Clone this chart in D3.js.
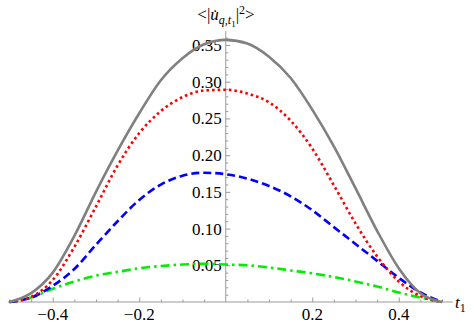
<!DOCTYPE html>
<html>
<head>
<meta charset="utf-8">
<script src="https://cdn.jsdelivr.net/npm/d3@7.9.0/dist/d3.min.js"></script>
<style>
  body { margin: 0; background: #fff; }
</style>
</head>
<body>
<svg id="chart" width="474" height="324" font-family="Liberation Serif"></svg>
<script>
// ─────────── DATA ───────────
const tValues = [-0.5, -0.45, -0.4, -0.35, -0.3, -0.25, -0.2, -0.15, -0.1, -0.05, 0,
                 0.05, 0.1, 0.15, 0.2, 0.25, 0.3, 0.35, 0.4, 0.45, 0.5];

const graySolid = [0, 0.012, 0.040, 0.090, 0.150, 0.206, 0.257, 0.302, 0.332, 0.351, 0.357,
                   0.352, 0.334, 0.305, 0.262, 0.212, 0.155, 0.097, 0.046, 0.012, 0];
const redDotted = [0, 0.007, 0.030, 0.075, 0.130, 0.186, 0.230, 0.260, 0.279, 0.288, 0.289,
                   0.284, 0.272, 0.247, 0.209, 0.159, 0.107, 0.062, 0.028, 0.008, 0];
const blueDashed = [0, 0.006, 0.022, 0.045, 0.078, 0.110, 0.139, 0.160, 0.172, 0.176, 0.174,
                    0.168, 0.158, 0.144, 0.125, 0.102, 0.079, 0.056, 0.033, 0.013, 0];
const greenDashDot = [0, 0.006, 0.018, 0.028, 0.036, 0.041, 0.046, 0.049, 0.051, 0.052, 0.051,
                      0.050, 0.047, 0.043, 0.039, 0.034, 0.028, 0.021, 0.013, 0.006, 0];

const xTicks = [-0.4, -0.2, 0.2, 0.4];
const yTicks = [0.05, 0.10, 0.15, 0.20, 0.25, 0.30, 0.35];

// ─────────── SCALES ───────────
const svg = d3.select("#chart");
const x = d3.scaleLinear().domain([-0.5, 0.5]).range([9.5, 442]);
const y = d3.scaleLinear().domain([0, 0.35]).range([302, 45]);

const axisColor = "#9a9a9a";
const serif = "Liberation Serif";

// minor ticks (every 0.05 on x, 0.01 on y), skipping the majors
const xMinor = d3.range(-10, 11).map(i => i * 0.05)
  .filter(v => Math.abs(v) > 1e-9 && !xTicks.some(t => Math.abs(t - v) < 1e-9));
const yMinor = d3.range(1, 37).map(i => i * 0.01)
  .filter(v => !yTicks.some(t => Math.abs(t - v) < 1e-9));

// ─────────── X AXIS (ticks only, labels added below) ───────────
const gx = svg.append("g").attr("transform", `translate(0,${y(0)})`);
gx.call(d3.axisBottom(x).tickValues(xTicks).tickFormat("").tickSizeInner(-4.5).tickSizeOuter(0));
gx.append("g").call(d3.axisBottom(x).tickValues(xMinor).tickFormat("").tickSizeInner(-2.5).tickSizeOuter(0));
gx.selectAll(".domain").remove();
gx.selectAll("line").attr("stroke", axisColor);
gx.append("line")
  .attr("x1", x(-0.504)).attr("x2", x(0.525))
  .attr("stroke", axisColor).attr("stroke-width", 1);

// ─────────── Y AXIS ───────────
const gy = svg.append("g").attr("transform", `translate(${x(0)},0)`);
gy.call(d3.axisLeft(y).tickValues(yTicks).tickFormat("").tickSizeInner(-4.5).tickSizeOuter(0));
gy.append("g").call(d3.axisLeft(y).tickValues(yMinor).tickFormat("").tickSizeInner(-2.5).tickSizeOuter(0));
gy.selectAll(".domain").remove();
gy.selectAll("line").attr("stroke", axisColor);
gy.append("line")
  .attr("y1", y(0)).attr("y2", y(0.369))
  .attr("stroke", axisColor).attr("stroke-width", 1);

// tick labels
const fmtX = d3.format(".1f"), fmtY = d3.format(".2f");
svg.selectAll(".xlab").data(xTicks).join("text")
  .attr("class", "xlab")
  .attr("x", d => x(d)).attr("y", 320)
  .attr("text-anchor", "middle")
  .attr("font-family", serif).attr("font-size", 17)
  .text(d => fmtX(d));
svg.selectAll(".ylab").data(yTicks).join("text")
  .attr("class", "ylab")
  .attr("x", x(0) - 4).attr("y", d => y(d) + 6)
  .attr("text-anchor", "end")
  .attr("font-family", serif).attr("font-size", 17)
  .text(d => fmtY(d));

// ─────────── CURVES ───────────
const series = [
  { values: greenDashDot, color: "#00ee00", dash: "9,4,2.5,4" },
  { values: blueDashed,   color: "#0000ff", dash: "8,4" },
  { values: redDotted,    color: "#ff0000", dash: "2.6,3" },
  { values: graySolid,    color: "#808080", dash: null }
];

const line = d3.line()
  .x((d, i) => x(tValues[i]))
  .y(d => y(d))
  .curve(d3.curveMonotoneX);

series.forEach(s => {
  svg.append("path")
    .attr("d", line(s.values))
    .attr("fill", "none")
    .attr("stroke", s.color)
    .attr("stroke-width", 2.6)
    .attr("stroke-dasharray", s.dash);
});

// ─────────── LABELS ───────────
const title = svg.append("text")
  .attr("x", 226).attr("y", 20)
  .attr("text-anchor", "middle")
  .attr("font-family", serif)
  .attr("font-size", 17);
title.append("tspan").text("<|");
title.append("tspan").attr("font-style", "italic").text("u\u0307");
title.append("tspan").attr("font-style", "italic").attr("font-size", 12).attr("dy", 4).text("q,t");
title.append("tspan").attr("font-size", 9).attr("dy", 2.5).text("1");
title.append("tspan").attr("dy", -6.5).text("|");
title.append("tspan").attr("font-size", 12).attr("dy", -6).text("2");
title.append("tspan").attr("dy", 6).text(">");

const xLabel = svg.append("text")
  .attr("x", 455).attr("y", 308)
  .attr("font-family", serif)
  .attr("font-size", 17);
xLabel.append("tspan").attr("font-style", "italic").text("t");
xLabel.append("tspan").attr("font-size", 12).attr("dy", 4).text("1");
</script>
</body>
</html>
